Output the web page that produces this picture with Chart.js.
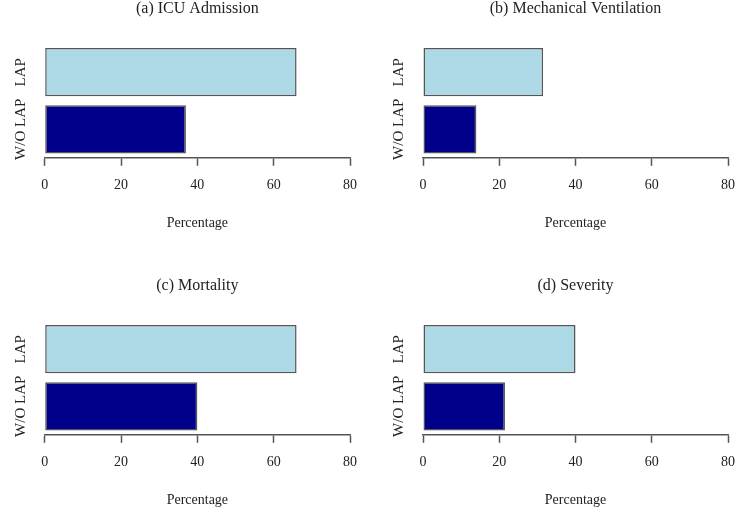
<!DOCTYPE html>
<html>
<head>
<meta charset="utf-8">
<script src="https://cdn.jsdelivr.net/npm/chart.js@4.4.0/dist/chart.umd.min.js"></script>
<style>
  html, body { margin: 0; padding: 0; background: #fff; }
  body { width: 746px; height: 511px; position: relative; overflow: hidden; }
  .panel { position: absolute; width: 373px; height: 277px; }
</style>
</head>
<body>
<div class="panel" style="left:0px;top:-27px"><canvas id="chartA"></canvas></div>
<div class="panel" style="left:373px;top:-27px"><canvas id="chartB"></canvas></div>
<div class="panel" style="left:0px;top:250px"><canvas id="chartC"></canvas></div>
<div class="panel" style="left:373px;top:250px"><canvas id="chartD"></canvas></div>
<script>
const groups = ['LAP', 'W/O LAP'];
const groupColors = ['#ADD8E6', '#00008B'];
const panelTitles = ['(a) ICU Admission', '(b) Mechanical Ventilation', '(c) Mortality', '(d) Severity'];
const icuAdmission = [66, 37];
const mechVentilation = [31.5, 14];
const mortality = [66, 40];
const severity = [40, 21.5];
const xTicks = [0, 20, 40, 60, 80];

const serif = 'Liberation Serif';
const inkColor = '#222';
const axisColor = '#555';

// rotated category labels to the left of the bars, like R's barplot names
const groupLabels = {
  id: 'groupLabels',
  afterDraw(chart) {
    const ctx = chart.ctx;
    const yScale = chart.scales.y;
    ctx.save();
    ctx.font = '15px "' + serif + '"';
    ctx.fillStyle = inkColor;
    ctx.textAlign = 'center';
    ctx.textBaseline = 'middle';
    groups.forEach((g, i) => {
      const y = yScale.getPixelForValue(i);
      ctx.save();
      ctx.translate(chart.chartArea.left - 24, y);
      ctx.rotate(-Math.PI / 2);
      ctx.fillText(g, 0, 0);
      ctx.restore();
    });
    ctx.restore();
  }
};

function makePanel(canvasId, title, values, padLeft, padRight) {
  return new Chart(document.getElementById(canvasId), {
    type: 'bar',
    data: {
      labels: groups,
      datasets: [{
        data: values,
        backgroundColor: groupColors,
        borderColor: axisColor,
        borderWidth: 1.5,
        borderSkipped: false,
        barPercentage: 0.845,
        categoryPercentage: 1
      }]
    },
    options: {
      indexAxis: 'y',
      responsive: true,
      maintainAspectRatio: false,
      animation: false,
      layout: { padding: { left: padLeft, right: padRight, top: 0, bottom: 12.2 } },
      plugins: {
        legend: { display: false },
        tooltip: { enabled: false },
        title: {
          display: true,
          text: title,
          fullSize: false,
          color: inkColor,
          font: { family: serif, size: 16, weight: 'normal' },
          padding: { top: 26, bottom: 25.5 }
        }
      },
      scales: {
        y: { display: false },
        x: {
          min: 0,
          max: 80,
          afterBuildTicks: (s) => { s.ticks = xTicks.map(v => ({ value: v })); },
          afterFit: (s) => { s.height = 80; },
          border: { display: true, color: axisColor, width: 1.5 },
          grid: { drawOnChartArea: false, drawTicks: true, tickLength: 8, tickColor: axisColor, tickWidth: 1.5 },
          ticks: { color: inkColor, padding: 11, font: { family: serif, size: 14 }, maxRotation: 0 },
          title: {
            display: true,
            text: 'Percentage',
            color: inkColor,
            font: { family: serif, size: 14 },
            padding: { top: 0, bottom: 6.5 }
          }
        }
      }
    },
    plugins: [groupLabels]
  });
}

makePanel('chartA', panelTitles[0], icuAdmission, 44.7, 23);
makePanel('chartB', panelTitles[1], mechVentilation, 50, 17.3);
makePanel('chartC', panelTitles[2], mortality, 44.7, 23);
makePanel('chartD', panelTitles[3], severity, 50, 17.3);
</script>
</body>
</html>
